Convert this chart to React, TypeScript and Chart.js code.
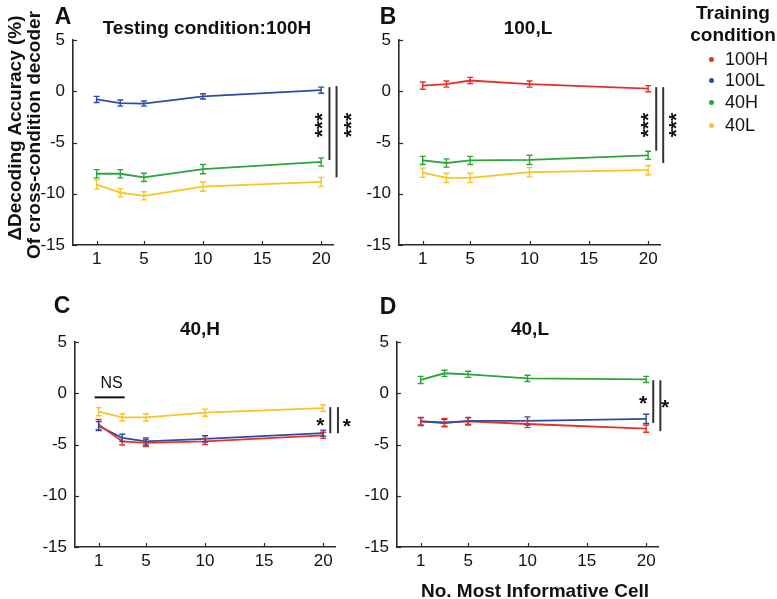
import React, { useEffect, useRef } from "react";
import { Chart, registerables } from "chart.js";

Chart.register(...registerables);

// ---------- data ----------
const CELLS = [1, 3, 5, 10, 20];
const X_TICKS = [1, 5, 10, 15, 20];
const Y_TICKS = [-15, -10, -5, 0, 5];
const TRAINING = ["100H", "100L", "40H", "40L"];

// Panel A — testing 100H
const A_100L = [-0.8, -1.15, -1.2, -0.5, 0.1];
const A_100L_ERR = [0.3, 0.3, 0.25, 0.25, 0.3];
const A_40H = [-8.05, -8.05, -8.4, -7.6, -6.9];
const A_40H_ERR = [0.4, 0.4, 0.4, 0.45, 0.4];
const A_40L = [-9.1, -9.9, -10.2, -9.3, -8.85];
const A_40L_ERR = [0.45, 0.4, 0.4, 0.45, 0.45];

// Panel B — testing 100L
const B_100H = [0.55, 0.7, 1.05, 0.7, 0.25];
const B_100H_ERR = [0.35, 0.3, 0.3, 0.3, 0.3];
const B_40H = [-6.75, -7.0, -6.75, -6.7, -6.25];
const B_40H_ERR = [0.4, 0.4, 0.4, 0.45, 0.4];
const B_40L = [-7.95, -8.45, -8.45, -7.9, -7.7];
const B_40L_ERR = [0.45, 0.45, 0.45, 0.45, 0.45];

// Panel C — testing 40H
const C_100H = [-3.05, -4.7, -4.85, -4.7, -4.1];
const C_100H_ERR = [0.5, 0.35, 0.35, 0.3, 0.3];
const C_100L = [-3.2, -4.35, -4.7, -4.45, -3.9];
const C_100L_ERR = [0.45, 0.35, 0.35, 0.3, 0.3];
const C_40L = [-1.8, -2.35, -2.35, -1.9, -1.45];
const C_40L_ERR = [0.4, 0.35, 0.35, 0.35, 0.3];

// Panel D — testing 40L
const D_100H = [-2.75, -2.85, -2.75, -3.0, -3.45];
const D_100H_ERR = [0.35, 0.4, 0.35, 0.35, 0.35];
const D_100L = [-2.75, -2.9, -2.7, -2.7, -2.5];
const D_100L_ERR = [0.4, 0.35, 0.35, 0.4, 0.45];
const D_40H = [1.3, 1.95, 1.85, 1.45, 1.35];
const D_40H_ERR = [0.35, 0.3, 0.3, 0.3, 0.3];

// ---------- styles ----------
const COLORS: Record<string, string> = {
  "100H": "#e8302a",
  "100L": "#2b4ea2",
  "40H": "#2ba43a",
  "40L": "#f8c524",
};
const FONT = "'Liberation Sans', Arial, Helvetica, sans-serif";
const W = 777;
const H = 599;
const AXIS_COLOR = "#2b2b2b";
const Y_AXIS_W = 40;
const X_AXIS_H = 30;

type Series = { name: string; values: number[]; errs: number[] };
type Sig = { x: number; y1: number; y2: number };
type Mark = { x: number; y: number; text: string; rotate: boolean; size: number; bold: boolean };
type Panel = {
  area: { left: number; right: number; top: number; bottom: number };
  series: Series[];
  sigLines: Sig[];
  marks: Mark[];
  nsLine?: { x1: number; x2: number; y: number };
};

const PANELS: Panel[] = [
  {
    area: { left: 73, right: 333, top: 40, bottom: 245 },
    series: [
      { name: "100L", values: A_100L, errs: A_100L_ERR },
      { name: "40H", values: A_40H, errs: A_40H_ERR },
      { name: "40L", values: A_40L, errs: A_40L_ERR },
    ],
    sigLines: [
      { x: 20.7, y1: 0.4, y2: -6.7 },
      { x: 21.3, y1: 0.5, y2: -8.4 },
    ],
    marks: [
      { x: 19.8, y: -3.3, text: "***", rotate: true, size: 21, bold: true },
      { x: 22.3, y: -3.3, text: "***", rotate: true, size: 21, bold: true },
    ],
  },
  {
    area: { left: 399, right: 660, top: 40, bottom: 245 },
    series: [
      { name: "100H", values: B_100H, errs: B_100H_ERR },
      { name: "40H", values: B_40H, errs: B_40H_ERR },
      { name: "40L", values: B_40L, errs: B_40L_ERR },
    ],
    sigLines: [
      { x: 20.68, y1: 0.4, y2: -5.8 },
      { x: 21.27, y1: 0.4, y2: -7.0 },
    ],
    marks: [
      { x: 19.75, y: -3.3, text: "***", rotate: true, size: 21, bold: true },
      { x: 22.1, y: -3.3, text: "***", rotate: true, size: 21, bold: true },
    ],
  },
  {
    area: { left: 75, right: 335, top: 342, bottom: 547 },
    series: [
      { name: "100H", values: C_100H, errs: C_100H_ERR },
      { name: "100L", values: C_100L, errs: C_100L_ERR },
      { name: "40L", values: C_40L, errs: C_40L_ERR },
    ],
    sigLines: [
      { x: 20.6, y1: -1.35, y2: -3.9 },
      { x: 21.25, y1: -1.35, y2: -3.9 },
    ],
    marks: [
      { x: 19.75, y: -2.85, text: "*", rotate: false, size: 21, bold: true },
      { x: 22.0, y: -2.9, text: "*", rotate: false, size: 21, bold: true },
      { x: 2.1, y: 1.07, text: "NS", rotate: false, size: 16, bold: false },
    ],
    nsLine: { x1: 0.66, x2: 3.2, y: -0.4 },
  },
  {
    area: { left: 397, right: 658, top: 342, bottom: 547 },
    series: [
      { name: "40H", values: D_40H, errs: D_40H_ERR },
      { name: "100L", values: D_100L, errs: D_100L_ERR },
      { name: "100H", values: D_100H, errs: D_100H_ERR },
    ],
    sigLines: [
      { x: 20.6, y1: 1.27, y2: -2.9 },
      { x: 21.2, y1: 1.27, y2: -3.7 },
    ],
    marks: [
      { x: 19.75, y: -0.7, text: "*", rotate: false, size: 21, bold: true },
      { x: 21.6, y: -1.0, text: "*", rotate: false, size: 21, bold: true },
    ],
  },
];

function makePlugin(panel: Panel) {
  return {
    id: "panelExtras",
    afterDatasetsDraw(chart: any) {
      const ctx: CanvasRenderingContext2D = chart.ctx;
      const xs = chart.scales.x;
      const ys = chart.scales.y;
      ctx.save();
      // error bars
      panel.series.forEach((s) => {
        ctx.strokeStyle = COLORS[s.name];
        ctx.lineWidth = 1.4;
        CELLS.forEach((c, i) => {
          const px = xs.getPixelForValue(c);
          const yTop = ys.getPixelForValue(s.values[i] + s.errs[i]);
          const yBot = ys.getPixelForValue(s.values[i] - s.errs[i]);
          ctx.beginPath();
          ctx.moveTo(px, yTop);
          ctx.lineTo(px, yBot);
          ctx.moveTo(px - 3, yTop);
          ctx.lineTo(px + 3, yTop);
          ctx.moveTo(px - 3, yBot);
          ctx.lineTo(px + 3, yBot);
          ctx.stroke();
        });
      });
      ctx.restore();
    },
    afterDraw(chart: any) {
      const ctx: CanvasRenderingContext2D = chart.ctx;
      const xs = chart.scales.x;
      const ys = chart.scales.y;
      const a = chart.chartArea;
      ctx.save();
      // inward tick marks
      ctx.strokeStyle = AXIS_COLOR;
      ctx.lineWidth = 1.2;
      X_TICKS.forEach((v) => {
        const px = Math.round(xs.getPixelForValue(v)) + 0.5;
        ctx.beginPath();
        ctx.moveTo(px, a.bottom);
        ctx.lineTo(px, a.bottom - 4);
        ctx.stroke();
      });
      Y_TICKS.forEach((v) => {
        const py = Math.round(ys.getPixelForValue(v)) + 0.5;
        ctx.beginPath();
        ctx.moveTo(a.left, py);
        ctx.lineTo(a.left + 4, py);
        ctx.stroke();
      });
      // significance lines
      ctx.strokeStyle = "#333";
      ctx.lineWidth = 2;
      panel.sigLines.forEach((l) => {
        const px = xs.getPixelForValue(l.x);
        ctx.beginPath();
        ctx.moveTo(px, ys.getPixelForValue(l.y1));
        ctx.lineTo(px, ys.getPixelForValue(l.y2));
        ctx.stroke();
      });
      if (panel.nsLine) {
        const n = panel.nsLine;
        ctx.strokeStyle = "#111";
        ctx.lineWidth = 2;
        const py = ys.getPixelForValue(n.y);
        ctx.beginPath();
        ctx.moveTo(xs.getPixelForValue(n.x1), py);
        ctx.lineTo(xs.getPixelForValue(n.x2), py);
        ctx.stroke();
      }
      // star / NS marks
      ctx.fillStyle = "#111";
      panel.marks.forEach((m) => {
        ctx.font = `${m.bold ? "bold " : ""}${m.size}px ${FONT}`;
        ctx.textAlign = "center";
        ctx.textBaseline = "alphabetic";
        const mt = ctx.measureText(m.text);
        const off = (mt.actualBoundingBoxAscent - mt.actualBoundingBoxDescent) / 2;
        const px = xs.getPixelForValue(m.x);
        const py = ys.getPixelForValue(m.y);
        ctx.save();
        ctx.translate(px, py);
        if (m.rotate) ctx.rotate(-Math.PI / 2);
        ctx.fillText(m.text, 0, off);
        ctx.restore();
      });
      ctx.restore();
    },
  };
}

function PanelChart({ panel }: { panel: Panel }) {
  const ref = useRef<HTMLCanvasElement | null>(null);
  useEffect(() => {
    if (!ref.current) return;
    const ar = panel.area;
    const chart = new Chart(ref.current, {
      type: "line",
      data: {
        datasets: panel.series.map((s) => ({
          label: s.name,
          data: CELLS.map((c, i) => ({ x: c, y: s.values[i] })),
          borderColor: COLORS[s.name],
          backgroundColor: COLORS[s.name],
          borderWidth: 1.8,
          pointRadius: 0,
          tension: 0,
          fill: false,
        })),
      },
      options: {
        animation: false,
        responsive: false,
        maintainAspectRatio: false,
        events: [],
        layout: {
          padding: {
            left: ar.left - Y_AXIS_W,
            right: W - ar.right,
            top: ar.top,
            bottom: H - ar.bottom - X_AXIS_H,
          },
        },
        plugins: {
          legend: { display: false },
          tooltip: { enabled: false },
          title: { display: false },
        },
        scales: {
          x: {
            type: "linear",
            min: -1,
            max: 21,
            afterBuildTicks: (s: any) => {
              s.ticks = X_TICKS.map((v) => ({ value: v }));
            },
            afterFit: (s: any) => {
              s.height = X_AXIS_H;
            },
            grid: { display: false, drawTicks: false },
            border: { display: true, color: AXIS_COLOR, width: 1.6 },
            ticks: {
              color: "#111",
              font: { family: FONT, size: 17 },
              padding: 4,
              maxRotation: 0,
              autoSkip: false,
            },
          },
          y: {
            type: "linear",
            min: -15,
            max: 5,
            afterBuildTicks: (s: any) => {
              s.ticks = Y_TICKS.map((v) => ({ value: v }));
            },
            afterFit: (s: any) => {
              s.width = Y_AXIS_W;
            },
            grid: { display: false, drawTicks: false },
            border: { display: true, color: AXIS_COLOR, width: 1.6 },
            ticks: {
              color: "#111",
              font: { family: FONT, size: 17 },
              padding: 8,
              autoSkip: false,
            },
          },
        },
      } as any,
      plugins: [makePlugin(panel)],
    });
    return () => chart.destroy();
  }, [panel]);
  return (
    <canvas
      ref={ref}
      width={W}
      height={H}
      style={{ position: "absolute", left: 0, top: 0, width: W, height: H }}
    />
  );
}

function Txt({
  x,
  y,
  children,
  size,
  bold = false,
  rotate = false,
  align = "center",
}: {
  x: number;
  y: number;
  children: React.ReactNode;
  size: number;
  bold?: boolean;
  rotate?: boolean;
  align?: "center" | "left";
}) {
  const tx = align === "center" ? "-50%" : "0";
  return (
    <div
      style={{
        position: "absolute",
        left: x,
        top: y,
        fontFamily: FONT,
        fontSize: size,
        fontWeight: bold ? 700 : 400,
        lineHeight: 1,
        whiteSpace: "nowrap",
        color: "#111",
        transform: `translate(${tx}, -50%)${rotate ? " rotate(-90deg)" : ""}`,
        transformOrigin: "center center",
      }}
    >
      {children}
    </div>
  );
}

const LEGEND_ROWS_Y = [59, 80, 102, 125];

export default function App() {
  return (
    <div
      style={{
        position: "fixed",
        left: 0,
        top: 0,
        width: W,
        height: H,
        background: "#fff",
        overflow: "hidden",
      }}
    >
      {PANELS.map((p, i) => (
        <PanelChart key={i} panel={p} />
      ))}
      {/* panel letters */}
      <Txt x={63} y={16} size={23} bold>A</Txt>
      <Txt x={388} y={16} size={23} bold>B</Txt>
      <Txt x={62} y={305} size={23} bold>C</Txt>
      <Txt x={388} y={306} size={23} bold>D</Txt>
      {/* panel titles */}
      <Txt x={207} y={27} size={19} bold>Testing condition:100H</Txt>
      <Txt x={528} y={27} size={19} bold>100,L</Txt>
      <Txt x={200} y={328} size={19} bold>40,H</Txt>
      <Txt x={530} y={328} size={19} bold>40,L</Txt>
      {/* y-axis label */}
      <Txt x={14} y={128} size={19} bold rotate>ΔDecoding Accuracy (%)</Txt>
      <Txt x={33} y={135} size={19} bold rotate>Of cross-condition decoder</Txt>
      {/* x-axis label */}
      <Txt x={535} y={590} size={19} bold>No. Most Informative Cell</Txt>
      {/* legend */}
      <Txt x={733} y={12} size={19} bold>Training</Txt>
      <Txt x={733} y={34} size={19} bold>condition</Txt>
      {TRAINING.map((t, i) => (
        <React.Fragment key={t}>
          <div
            style={{
              position: "absolute",
              left: 711 - 2.5,
              top: LEGEND_ROWS_Y[i] - 2.5,
              width: 5,
              height: 5,
              borderRadius: "50%",
              background: COLORS[t],
            }}
          />
          <Txt x={725} y={LEGEND_ROWS_Y[i]} size={18} align="left">
            {t}
          </Txt>
        </React.Fragment>
      ))}
    </div>
  );
}
